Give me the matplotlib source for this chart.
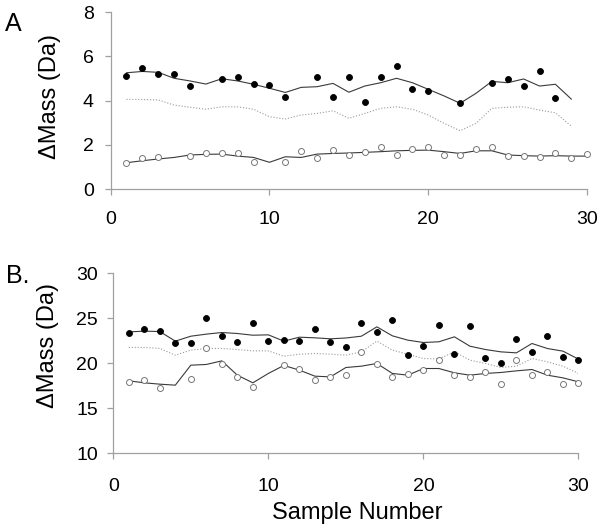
import numpy as np
import matplotlib
matplotlib.use("Agg")
import matplotlib.pyplot as plt

plt.rcParams['font.family'] = ['Liberation Sans', 'DejaVu Sans']

x = np.arange(1, 31)
nan = np.nan

# Panel A
a_filled = [5.11, 5.46, 5.22, 5.22, 4.65, nan, 4.98, 5.07, 4.74, 4.69,
            4.15, nan, 5.08, 4.15, 5.08, 3.94, 5.08, 5.55, 4.51, 4.45,
            nan, 3.88, nan, 4.80, 4.98, 4.65, 5.35, 4.12, nan, nan]
a_open = [1.16, 1.39, 1.45, nan, 1.49, 1.64, 1.64, 1.64, 1.24, nan,
          1.24, 1.73, 1.39, 1.76, 1.54, 1.67, 1.89, 1.54, 1.82, 1.91,
          1.54, 1.54, 1.82, 1.91, 1.48, 1.48, 1.43, 1.64, 1.39, 1.58]
a_top_line = [5.26, 5.32, 5.28, 5.01, 4.89, 4.75, 4.99, 4.89, 4.74, 4.56,
              4.37, 4.60, 4.63, 4.78, 4.38, 4.66, 4.81, 5.01, 4.81, 4.51,
              4.21, 3.88, 4.33, 4.87, 4.81, 4.98, 4.66, 4.74, 4.07, nan]
a_mid_line = [4.06, 4.05, 4.03, 3.80, 3.70, 3.61, 3.72, 3.72, 3.61, 3.27,
              3.17, 3.35, 3.42, 3.54, 3.20, 3.42, 3.65, 3.72, 3.61, 3.35,
              2.97, 2.64, 2.97, 3.65, 3.70, 3.72, 3.57, 3.45, 2.85, nan]
a_low_line = [1.19, 1.28, 1.36, 1.43, 1.54, 1.57, 1.58, 1.49, 1.43, 1.21,
              1.46, 1.43, 1.58, 1.61, 1.63, 1.66, 1.69, 1.73, 1.75, 1.76,
              1.69, 1.61, 1.73, 1.73, 1.54, 1.51, 1.49, 1.51, 1.49, 1.49]

# Panel B
b_filled = [23.37, 23.85, 23.59, 22.22, 22.22, 25.0, 23.0, 22.37, 24.48, 22.52,
            22.59, 22.52, 23.85, 22.37, 21.85, 24.51, 23.48, 24.85, 20.96, 21.96,
            24.22, 21.07, 24.11, 20.59, 20.07, 22.7, 21.22, 23.07, 20.7, 20.37]
b_open = [17.96, 18.11, 17.22, nan, 18.26, 21.74, 19.96, 18.48, 17.44, nan,
          19.85, 19.33, 18.11, 18.48, 18.70, 21.22, 19.89, 18.48, 18.81, 19.26,
          20.37, 18.74, 18.48, 19.0, 17.70, 20.37, 18.70, 19.0, 17.70, 17.85]
b_top_line = [23.51, 23.59, 23.55, 22.48, 23.03, 23.26, 23.44, 23.33, 23.14, 23.18,
              22.48, 22.92, 22.85, 22.74, 22.83, 23.03, 24.07, 23.07, 22.59, 22.33,
              22.41, 22.96, 21.92, 21.55, 21.29, 21.18, 22.22, 21.66, 21.37, 20.48]
b_mid_line = [21.78, 21.78, 21.67, 20.92, 21.48, 21.67, 21.67, 21.55, 21.40, 21.40,
              20.81, 21.03, 21.11, 21.03, 20.92, 21.29, 22.48, 21.48, 21.03, 20.55,
              20.51, 21.29, 20.37, 20.0, 19.55, 19.70, 20.55, 20.18, 19.70, 18.89]
b_low_line = [18.07, 17.85, 17.70, 17.59, 19.81, 19.89, 20.29, 18.70, 17.85, 18.89,
              19.78, 19.26, 18.59, 18.51, 19.55, 19.70, 20.0, 18.89, 18.70, 19.44,
              19.44, 18.96, 18.70, 18.89, 19.0, 19.18, 19.33, 18.70, 18.40, 17.96]

fig = plt.figure(figsize=(6.01, 5.31), dpi=100)
axA = fig.add_axes([0.184, 0.644, 0.793, 0.333])
axB = fig.add_axes([0.1885, 0.146, 0.774, 0.339])

spine_c = '#a0a0a0'

def style(ax):
    for s in ['top', 'right']:
        ax.spines[s].set_visible(False)
    for s in ['left', 'bottom']:
        ax.spines[s].set_color(spine_c)
        ax.spines[s].set_linewidth(0.9)
    ax.tick_params(direction='out', length=4, width=0.9, color=spine_c,
                   labelsize=14, labelcolor='black')
    ax.set_xlim(0, 30)
    ax.set_xticks([0, 10, 20, 30])
    ax.patch.set_alpha(0)

def draw(ax, filled, opn, top, mid, low):
    ax.plot(x, top, '-', color='#3a3a3a', lw=0.8, zorder=2)
    ax.plot(x, mid, ':', color='#999999', lw=0.8, zorder=2)
    ax.plot(x, low, '-', color='#3a3a3a', lw=0.8, zorder=2)
    ax.plot(x, filled, 'o', ms=4.3, mfc='black', mec='black', mew=0.6, zorder=3, clip_on=False)
    ax.plot(x, opn, 'o', ms=4.3, mfc='white', mec='#777777', mew=0.7, zorder=3, clip_on=False)

style(axA)
draw(axA, a_filled, a_open, a_top_line, a_mid_line, a_low_line)
axA.set_ylim(0, 8)
axA.set_yticks([0, 2, 4, 6, 8])
axA.tick_params(axis='y', pad=8)
axA.tick_params(axis='x', pad=12)
axA.set_ylabel('ΔMass (Da)', fontsize=17)
axA.yaxis.set_label_coords(-0.105, 0.525)

style(axB)
draw(axB, b_filled, b_open, b_top_line, b_mid_line, b_low_line)
axB.set_ylim(10, 30)
axB.set_yticks([10, 15, 20, 25, 30])
axB.tick_params(axis='y', pad=7)
axB.tick_params(axis='x', pad=14)
axB.set_ylabel('ΔMass (Da)', fontsize=17)
axB.yaxis.set_label_coords(-0.116, 0.60)
axB.set_xlabel('Sample Number', fontsize=17)
axB.xaxis.set_label_coords(0.524, -0.27)

fig.text(0.008, 0.9416, 'A', fontsize=18, va='baseline', ha='left')
fig.text(0.010, 0.467, 'B.', fontsize=18, va='baseline', ha='left')

fig.savefig('out.png', dpi=100)
